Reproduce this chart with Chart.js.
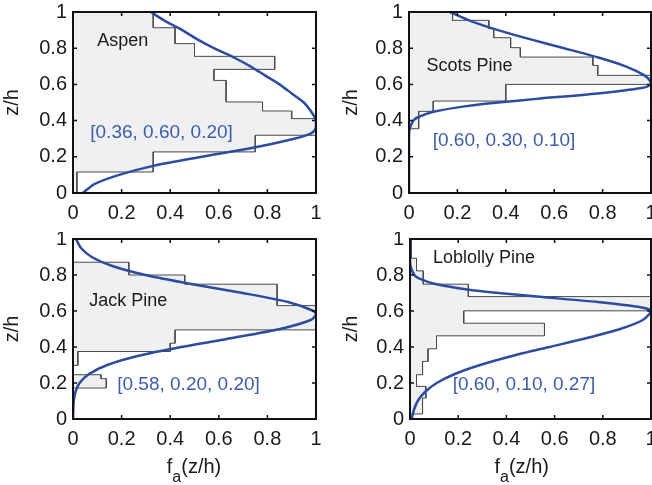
<!DOCTYPE html>
<html>
<head>
<meta charset="utf-8">
<script src="https://cdn.jsdelivr.net/npm/chart.js@4.4.1/dist/chart.umd.min.js"></script>
<style>
  body { margin: 0; background: #fff; width: 652px; height: 485px; position: relative; overflow: hidden; }
  canvas { position: absolute; }
</style>
</head>
<body>
<canvas id="aspen" width="326" height="232" style="left:0;top:0"></canvas>
<canvas id="scots" width="326" height="232" style="left:326px;top:0"></canvas>
<canvas id="jack" width="326" height="253" style="left:0;top:232px"></canvas>
<canvas id="loblolly" width="326" height="253" style="left:326px;top:232px"></canvas>
<script>
// axis ticks (same on both axes)
const tickValues = [0, 0.2, 0.4, 0.6, 0.8, 1];
const tickLabels = ['0', '0.2', '0.4', '0.6', '0.8', '1'];

// histograms: bin edges (z/h, top to bottom) and bar values
const aspenEdges = [1, 0.913, 0.825, 0.755, 0.683, 0.622, 0.503, 0.453, 0.411, 0.319, 0.227, 0.116, 0];
const aspenValues = [0.33, 0.42, 0.50, 0.83, 0.58, 0.63, 0.78, 0.90, 1.0, 0.75, 0.33, 0.016];
const scotsEdges = [1, 0.954, 0.908, 0.858, 0.803, 0.751, 0.705, 0.650, 0.600, 0.508, 0.451, 0.355, 0];
const scotsValues = [0.18, 0.33, 0.35, 0.42, 0.46, 0.76, 0.78, 1.0, 0.40, 0.10, 0.04, 0];
const jackEdges = [1, 0.871, 0.800, 0.749, 0.630, 0.495, 0.421, 0.375, 0.298, 0.246, 0.224, 0.172, 0];
const jackValues = [0, 0.23, 0.46, 0.84, 1.0, 0.42, 0.40, 0.02, 0, 0.115, 0.137, 0];
const loblollyEdges = [1, 0.893, 0.823, 0.749, 0.680, 0.601, 0.532, 0.462, 0.390, 0.320, 0.246, 0.181, 0.116, 0.028, 0];
const loblollyValues = [0.005, 0.027, 0.055, 0.242, 1.0, 0.223, 0.558, 0.110, 0.075, 0.052, 0.027, 0.066, 0.052, 0];

// fitted profiles: z/h and f_a
const aspenZ = [0, 0.05, 0.1, 0.15, 0.2, 0.25, 0.3, 0.33, 0.36, 0.4, 0.45, 0.5, 0.55, 0.6, 0.65, 0.7, 0.75, 0.8, 0.85, 0.9, 0.95, 1.0];
const aspenF = [0.04, 0.09, 0.19, 0.33, 0.53, 0.74, 0.91, 0.98, 1.0, 1.0, 0.98, 0.95, 0.90, 0.85, 0.79, 0.73, 0.66, 0.58, 0.51, 0.45, 0.38, 0.32];
const scotsZ = [0, 0.2, 0.3, 0.35, 0.4, 0.42, 0.45, 0.48, 0.5, 0.52, 0.55, 0.58, 0.6, 0.62, 0.65, 0.7, 0.75, 0.8, 0.85, 0.9, 0.95, 1.0];
const scotsF = [0, 0, 0, 0.002, 0.018, 0.039, 0.105, 0.237, 0.368, 0.527, 0.779, 0.961, 1.0, 0.996, 0.973, 0.895, 0.779, 0.641, 0.499, 0.368, 0.256, 0.169];
const jackZ = [0, 0.05, 0.1, 0.15, 0.2, 0.25, 0.3, 0.35, 0.4, 0.45, 0.5, 0.55, 0.58, 0.6, 0.65, 0.7, 0.75, 0.8, 0.85, 0.9, 0.95, 1.0];
const jackF = [0.0002, 0.001, 0.003, 0.01, 0.027, 0.066, 0.141, 0.266, 0.445, 0.655, 0.852, 0.978, 1.0, 0.99, 0.885, 0.698, 0.486, 0.298, 0.162, 0.077, 0.033, 0.012];
const loblollyZ = [0, 0.05, 0.1, 0.15, 0.2, 0.25, 0.3, 0.35, 0.4, 0.45, 0.5, 0.55, 0.6, 0.62, 0.65, 0.68, 0.7, 0.72, 0.75, 0.78, 0.8, 0.85, 0.9, 1.0];
const loblollyF = [0.007, 0.016, 0.032, 0.062, 0.111, 0.186, 0.291, 0.424, 0.578, 0.734, 0.872, 0.966, 1.0, 0.961, 0.779, 0.527, 0.368, 0.237, 0.105, 0.039, 0.018, 0.002, 0, 0];

const FONT = '"Liberation Sans", Arial, Helvetica, sans-serif';
const BLUE = '#2d4c9f';
const TEXT_BLUE = '#3d5cab';

function histPoints(edges, values) {
    const pts = [{x: 0, y: edges[0]}];
    values.forEach((v, i) => {
        pts.push({x: v, y: edges[i]});
        pts.push({x: v, y: edges[i + 1]});
    });
    pts.push({x: 0, y: edges[edges.length - 1]});
    return pts;
}

function curvePoints(zs, fs) {
    return zs.map((z, i) => ({x: fs[i], y: z}));
}

function makePanel(id, p) {
    // frame, inward ticks and the text labels
    const decor = {
        id: 'decor',
        afterDatasetsDraw(chart) {
            const {ctx, chartArea: a, scales: {x, y}} = chart;
            ctx.save();
            ctx.strokeStyle = '#111';
            ctx.lineWidth = 2;
            ctx.strokeRect(a.left, a.top, a.right - a.left, a.bottom - a.top);
            ctx.lineWidth = 1.5;
            ctx.beginPath();
            tickValues.forEach(v => {
                const px = x.getPixelForValue(v), py = y.getPixelForValue(v);
                ctx.moveTo(px, a.bottom); ctx.lineTo(px, a.bottom - 4);
                ctx.moveTo(px, a.top); ctx.lineTo(px, a.top + 4);
                ctx.moveTo(a.left, py); ctx.lineTo(a.left + 4, py);
                ctx.moveTo(a.right, py); ctx.lineTo(a.right - 4, py);
            });
            ctx.stroke();

            ctx.textBaseline = 'middle';
            ctx.textAlign = 'left';
            ctx.fillStyle = '#1a1a1a';
            ctx.font = '18px ' + FONT;
            ctx.fillText(p.name, x.getPixelForValue(p.nameAt[0]), y.getPixelForValue(p.nameAt[1]));
            ctx.fillStyle = TEXT_BLUE;
            ctx.font = '19px ' + FONT;
            ctx.fillText(p.params, x.getPixelForValue(p.paramsAt[0]), y.getPixelForValue(p.paramsAt[1]));

            // y title
            ctx.fillStyle = '#1a1a1a';
            ctx.font = '20px ' + FONT;
            ctx.save();
            ctx.translate(p.yTitleX, (a.top + a.bottom) / 2);
            ctx.rotate(-Math.PI / 2);
            ctx.textAlign = 'center';
            ctx.fillText('z/h', 0, 0);
            ctx.restore();

            // x title with subscript
            if (p.xTitleX) {
                ctx.textBaseline = 'alphabetic';
                ctx.font = '20px ' + FONT;
                const wf = ctx.measureText('f').width;
                const wr = ctx.measureText('(z/h)').width;
                ctx.font = '16px ' + FONT;
                const wa = ctx.measureText('a').width;
                let sx = p.xTitleX - (wf + wa + wr) / 2;
                const base = a.bottom + 54;
                ctx.font = '20px ' + FONT;
                ctx.fillText('f', sx, base);
                ctx.font = '16px ' + FONT;
                ctx.fillText('a', sx + wf, base + 8.5);
                ctx.font = '20px ' + FONT;
                ctx.fillText('(z/h)', sx + wf + wa, base);
            }
            ctx.restore();
        }
    };

    new Chart(document.getElementById(id), {
        type: 'scatter',
        data: {
            datasets: [{
                data: curvePoints(p.curveZ, p.curveF),
                showLine: true,
                borderColor: BLUE,
                borderWidth: 2.5,
                pointRadius: 0,
                tension: 0.25,
                fill: false,
                order: 0
            }, {
                data: histPoints(p.edges, p.values),
                showLine: true,
                borderColor: '#4a4a4a',
                borderWidth: 1,
                backgroundColor: '#eff0f2',
                pointRadius: 0,
                tension: 0,
                fill: 'shape',
                order: 1
            }]
        },
        options: {
            responsive: false,
            animation: false,
            events: [],
            layout: {
                autoPadding: false,
                padding: {top: p.padTop, right: p.padRight, left: 0, bottom: 0}
            },
            plugins: {legend: {display: false}, tooltip: {enabled: false}},
            scales: {
                x: {
                    type: 'linear', min: 0, max: 1,
                    grid: {display: false, drawTicks: false},
                    border: {display: false},
                    afterBuildTicks: s => { s.ticks = tickValues.map(v => ({value: v})); },
                    afterFit: s => { s.height = p.xAxisH; s.paddingLeft = 0; s.paddingRight = 0; },
                    ticks: {
                        padding: 8,
                        color: '#1a1a1a',
                        font: {family: FONT, size: 20},
                        maxRotation: 0,
                        autoSkip: false,
                        callback: (v, i) => tickLabels[i]
                    }
                },
                y: {
                    type: 'linear', min: 0, max: 1,
                    grid: {display: false, drawTicks: false},
                    border: {display: false},
                    afterBuildTicks: s => { s.ticks = tickValues.map(v => ({value: v})); },
                    afterFit: s => { s.width = p.yAxisW; s.paddingTop = 0; s.paddingBottom = 0; },
                    ticks: {
                        padding: 6,
                        color: '#1a1a1a',
                        font: {family: FONT, size: 20},
                        autoSkip: false,
                        callback: (v, i) => tickLabels[i]
                    }
                }
            }
        },
        plugins: [decor]
    });
}

makePanel('aspen', {
    edges: aspenEdges, values: aspenValues, curveZ: aspenZ, curveF: aspenF,
    name: 'Aspen', nameAt: [0.10, 0.838],
    params: '[0.36, 0.60, 0.20]', paramsAt: [0.071, 0.335],
    yAxisW: 73, padTop: 12, xAxisH: 39, padRight: 10, yTitleX: 12.5
});
makePanel('scots', {
    edges: scotsEdges, values: scotsValues, curveZ: scotsZ, curveF: scotsF,
    name: 'Scots Pine', nameAt: [0.072, 0.70],
    params: '[0.60, 0.30, 0.10]', paramsAt: [0.098, 0.291],
    yAxisW: 83, padTop: 12, xAxisH: 39, padRight: 1, yTitleX: 25
});
makePanel('jack', {
    edges: jackEdges, values: jackValues, curveZ: jackZ, curveF: jackF,
    name: 'Jack Pine', nameAt: [0.067, 0.656],
    params: '[0.58, 0.20, 0.20]', paramsAt: [0.182, 0.19],
    yAxisW: 73, padTop: 7, xAxisH: 66, padRight: 10, yTitleX: 12.5, xTitleX: 194
});
makePanel('loblolly', {
    edges: loblollyEdges, values: loblollyValues, curveZ: loblollyZ, curveF: loblollyF,
    name: 'Loblolly Pine', nameAt: [0.095, 0.895],
    params: '[0.60, 0.10, 0.27]', paramsAt: [0.177, 0.19],
    yAxisW: 84, padTop: 7, xAxisH: 66, padRight: 1, yTitleX: 25, xTitleX: 195.7
});
</script>
</body>
</html>
